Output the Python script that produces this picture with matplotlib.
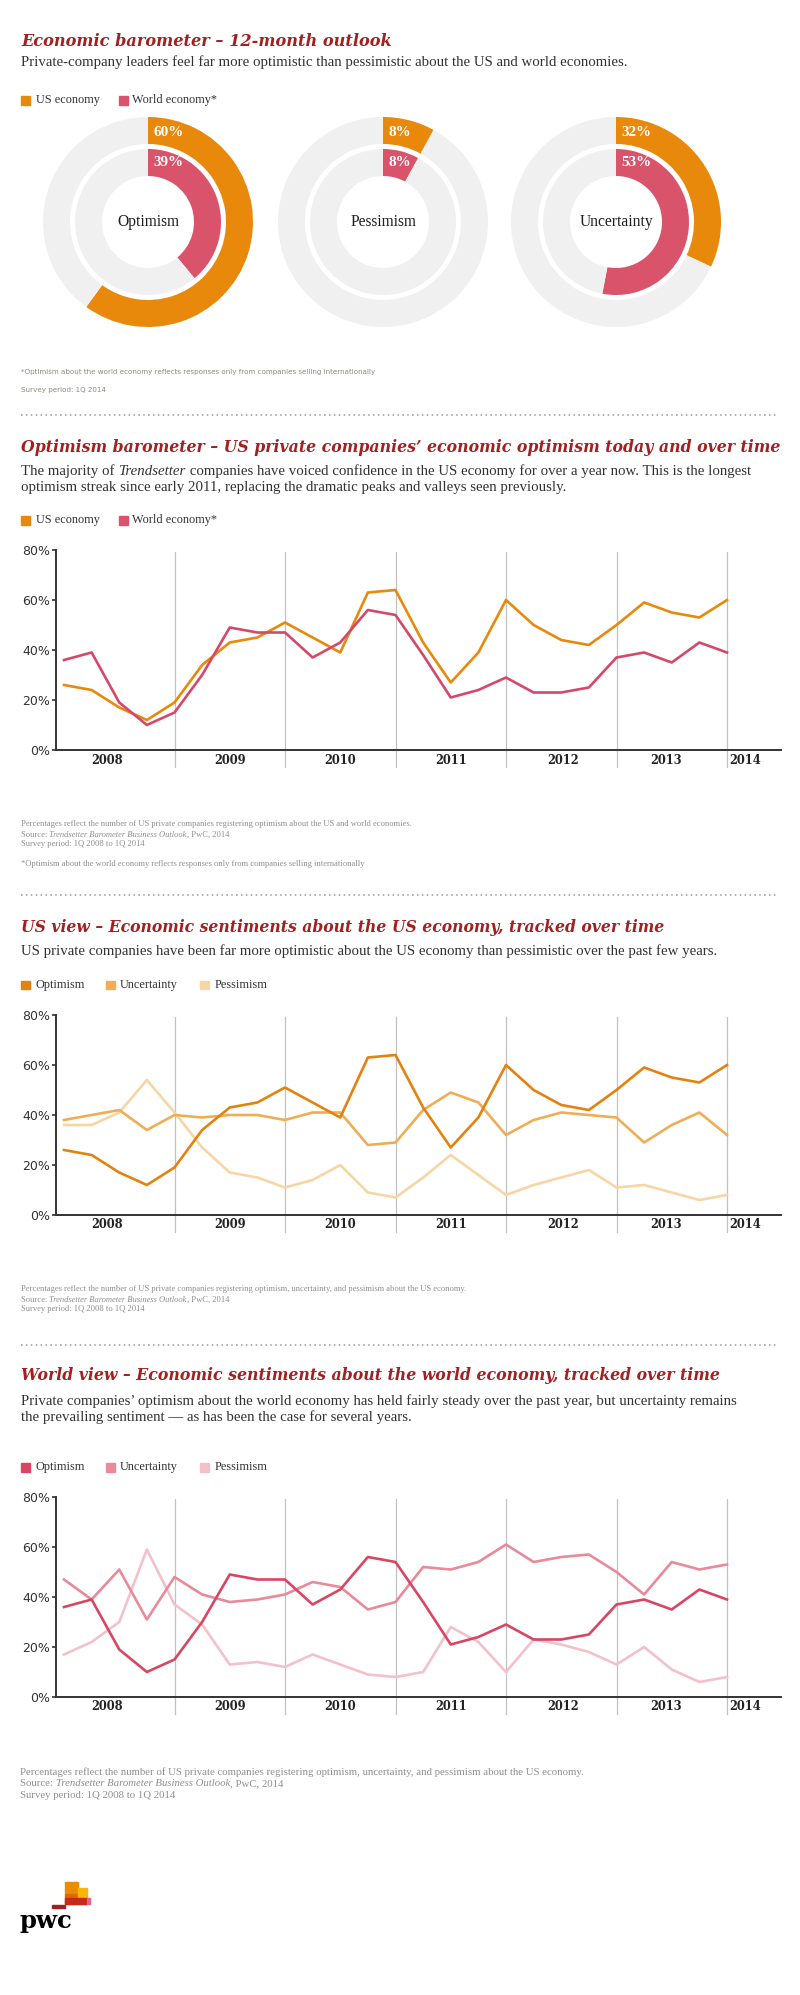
import numpy as np
import matplotlib
matplotlib.use('Agg')
import matplotlib.pyplot as plt
from matplotlib.patches import Rectangle
from matplotlib.lines import Line2D
from matplotlib.transforms import blended_transform_factory

# ---- data ----
donut_names = ['Optimism', 'Pessimism', 'Uncertainty']
us_now = [60, 8, 32]
world_now = [39, 8, 53]

years = ['2008', '2009', '2010', '2011', '2012', '2013', '2014']
quarters = [f'{q}Q {y}' for y in range(2008, 2014) for q in range(1, 5)] + ['1Q 2014']

us_opt = [26, 24, 17, 12, 19, 34, 43, 45, 51, 45, 39, 63, 64, 43, 27, 39, 60, 50, 44, 42, 50, 59, 55, 53, 60]
us_unc = [38, 40, 42, 34, 40, 39, 40, 40, 38, 41, 41, 28, 29, 42, 49, 45, 32, 38, 41, 40, 39, 29, 36, 41, 32]
us_pes = [36, 36, 41, 54, 41, 27, 17, 15, 11, 14, 20, 9, 7, 15, 24, 16, 8, 12, 15, 18, 11, 12, 9, 6, 8]

world_opt = [36, 39, 19, 10, 15, 30, 49, 47, 47, 37, 43, 56, 54, 38, 21, 24, 29, 23, 23, 25, 37, 39, 35, 43, 39]
world_unc = [47, 39, 51, 31, 48, 41, 38, 39, 41, 46, 44, 35, 38, 52, 51, 54, 61, 54, 56, 57, 50, 41, 54, 51, 53]
world_pes = [17, 22, 30, 59, 37, 29, 13, 14, 12, 17, 13, 9, 8, 10, 28, 22, 10, 23, 21, 18, 13, 20, 11, 6, 8]

# ---- style ----
RED = '#a32020'
ORANGE = '#e8890c'
PINK = '#d9546b'
BG = '#f0f0f0'
TXT = '#333333'
NOTE = '#8f8f8f'
SERIF = 'DejaVu Serif'
BODY = 'Liberation Serif'
SANS = 'DejaVu Sans'

W, H = 800, 1995
fig = plt.figure(figsize=(W / 100, H / 100), dpi=100)
R = fig.canvas.get_renderer()


def tw(s, size, **kw):
    # width of a string in pixels, trailing spaces included
    a = fig.text(0, 0, '|' + s + '|', fontsize=size, **kw)
    b = fig.text(0, 0, '||', fontsize=size, **kw)
    w = a.get_window_extent(R).width - b.get_window_extent(R).width
    a.remove()
    b.remove()
    return w


def runs(x, y, parts, size=10, color=TXT, family=BODY):
    # mixed upright / italic pieces on one shared baseline
    yb = y + 0.3 * size * 100 / 72
    for s, st in parts:
        fig.text(x / W, 1 - yb / H, s, fontsize=size, color=color, family=family,
                 style=st, va='baseline', ha='left')
        x += tw(s, size, family=family, style=st)


def fit(s, width, **kw):
    return 10 * width / tw(s, 10, **kw)


def put(x, y, s, size, color=TXT, family=BODY, **kw):
    kw.setdefault('va', 'center')
    kw.setdefault('ha', 'left')
    return fig.text(x / W, 1 - y / H, s, fontsize=size, color=color, family=family, **kw)


def title(y, s, width):
    size = fit(s, width, family=SERIF, weight='bold', style='italic')
    put(21, y, s, size, color=RED, family=SERIF, weight='bold', style='italic')


def dots(y):
    fig.add_artist(Line2D([21 / W, 778 / W], [1 - y / H] * 2, color='#9a9a9a', lw=1.1,
                          ls=(0, (1, 2.2))))


def legend(y, labels, colors, xs_box, xs_txt, size):
    for lab, c, xb, xt in zip(labels, colors, xs_box, xs_txt):
        fig.add_artist(Rectangle((xb / W, 1 - (y + 4.5) / H), 9 / W, 9 / H, color=c,
                                 transform=fig.transFigure))
        put(xt, y, lab, size, color='#333333')


sub_size = fit('Private-company leaders feel far more optimistic than pessimistic about the US and world economies.',
               608, family=BODY)
leg_size = fit('US economy', 64, family=BODY)

# ---- section 1 : doughnuts ----
title(42, 'Economic barometer – 12-month outlook', 369)
put(21, 62, 'Private-company leaders feel far more optimistic than pessimistic about the US and world economies.',
    sub_size)
legend(100, ['US economy', 'World economy*'], [ORANGE, PINK], [21, 119], [36, 132], leg_size)

centers = [148, 383, 616]
pct_size = fit('60%', 30, family=BODY, weight='bold')
name_size = fit('Optimism', 62, family=BODY)
for name, us, wo, cx in zip(donut_names, us_now, world_now, centers):
    half = 115
    ax = fig.add_axes([(cx - half) / W, 1 - (222 + half) / H, 2 * half / W, 2 * half / H])
    ax.pie([us, 100 - us], colors=[ORANGE, BG], startangle=90, counterclock=False, radius=1,
           wedgeprops=dict(width=27 / 105, linewidth=0))
    ax.pie([wo, 100 - wo], colors=[PINK, BG], startangle=90, counterclock=False, radius=73 / 105,
           wedgeprops=dict(width=27 / 105, linewidth=0))
    lim = half / 105
    ax.set_xlim(-lim, lim)
    ax.set_ylim(-lim, lim)
    ax.set_aspect('equal')
    ax.axis('off')
    ax.text(0.05, 90 / 105, f'{us}%', color='white', fontsize=pct_size, weight='bold',
            family=BODY, ha='left', va='center')
    ax.text(0.05, 59 / 105, f'{wo}%', color='white', fontsize=pct_size, weight='bold',
            family=BODY, ha='left', va='center')
    ax.text(0, 0, name, fontsize=name_size, family=BODY, color='#1e1e1e', ha='center', va='center')

fn = '*Optimism about the world economy reflects responses only from companies selling internationally'
fn_size = fit(fn, 353, family=SANS)
put(21, 372, fn, fn_size, color='#8c8a7c', family=SANS)
put(21, 390, 'Survey period: 1Q 2014', fn_size, color='#8c8a7c', family=SANS)
dots(415)

# ---- line charts ----
year_starts = [4, 8, 12, 16, 20, 24]
year_pos = [1.55, 6, 10, 14, 18.05, 21.8, 24.65]
tick_size = 9
year_size = fit('2008', 32, family=SERIF, weight='bold')


def line_chart(top, series, colors):
    ax = fig.add_axes([56 / W, 1 - (top + 200) / H, (781 - 56) / W, 200 / H])
    x = np.arange(len(quarters))
    for vals, c in zip(series, colors):
        ax.plot(x, vals, color=c, lw=1.9, clip_on=False, zorder=3)
    step = (727 - 64) / 24
    ax.set_xlim(-(64 - 56) / step, 24 + (781 - 727) / step)
    ax.set_ylim(0, 80)
    ax.set_yticks([0, 20, 40, 60, 80])
    ax.set_yticklabels(['0%', '20%', '40%', '60%', '80%'], family=SANS, fontsize=tick_size, color='#333333')
    ax.tick_params(axis='y', length=3, width=1.2, pad=1.5, color='#333333')
    ax.set_xticks([])
    for s in ['top', 'right']:
        ax.spines[s].set_visible(False)
    for s in ['left', 'bottom']:
        ax.spines[s].set_color('#333333')
        ax.spines[s].set_linewidth(1.4)
    for g in year_starts:
        ax.axvline(g, ymin=-0.085, ymax=0.99, color='#c2c2c2', lw=0.9, clip_on=False, zorder=1)
    tr = blended_transform_factory(ax.transData, ax.transAxes)
    for yr, p in zip(years, year_pos):
        ax.text(p, -0.05, yr, transform=tr, ha='center', va='center', weight='bold',
                family=SERIF, fontsize=year_size, color='#222222')
    return ax


# section 2
title(447, 'Optimism barometer – US private companies’ economic optimism today and over time', 759)
runs(21, 471, [('The majority of ', 'normal'), ('Trendsetter', 'italic'),
               (' companies have voiced confidence in the US economy for over a year now. This is the longest',
                'normal')], size=sub_size)
put(21, 488, 'optimism streak since early 2011, replacing the dramatic peaks and valleys seen previously.', sub_size)
legend(520, ['US economy', 'World economy*'], [ORANGE, PINK], [21, 119], [36, 132], leg_size)
line_chart(550, [us_opt, world_opt], [ORANGE, '#d4486a'])

n2 = 'Percentages reflect the number of US private companies registering optimism about the US and world economies.'
note_size = fit(n2, 390, family=BODY)
put(21, 824, n2, note_size, color=NOTE)
runs(21, 834, [('Source: ', 'normal'), ('Trendsetter Barometer Business Outlook', 'italic'), (', PwC, 2014', 'normal')],
     size=note_size, color=NOTE)
put(21, 844, 'Survey period: 1Q 2008 to 1Q 2014', note_size, color=NOTE)
put(21, 864, fn, note_size, color=NOTE)
dots(895)

# section 3
title(927, 'US view – Economic sentiments about the US economy, tracked over time', 642)
put(21, 951, 'US private companies have been far more optimistic about the US economy than pessimistic over the past few years.',
    sub_size)
us_cols = ['#e4820f', '#efad55', '#f7d6a5']
legend(985, ['Optimism', 'Uncertainty', 'Pessimism'], us_cols, [21, 106, 200], [35, 120, 215], leg_size)
line_chart(1015, [us_pes, us_unc, us_opt], us_cols[::-1])

n3 = 'Percentages reflect the number of US private companies registering optimism, uncertainty, and pessimism about the US economy.'
note3 = fit(n3, 443, family=BODY)
put(21, 1289, n3, note3, color=NOTE)
runs(21, 1299, [('Source: ', 'normal'), ('Trendsetter Barometer Business Outlook', 'italic'), (', PwC, 2014', 'normal')],
     size=note3, color=NOTE)
put(21, 1309, 'Survey period: 1Q 2008 to 1Q 2014', note3, color=NOTE)
dots(1345)

# section 4
title(1376, 'World view – Economic sentiments about the world economy, tracked over time', 701)
put(21, 1401, 'Private companies’ optimism about the world economy has held fairly steady over the past year, but uncertainty remains',
    sub_size)
put(21, 1417, 'the prevailing sentiment — as has been the case for several years.', sub_size)
wo_cols = ['#d94562', '#e88a9a', '#f3c1ca']
legend(1467, ['Optimism', 'Uncertainty', 'Pessimism'], wo_cols, [21, 106, 200], [35, 120, 215], leg_size)
line_chart(1497, [world_pes, world_unc, world_opt], wo_cols[::-1])

note4 = fit(n3, 556, family=BODY)
put(20, 1772, n3, note4, color=NOTE)
runs(20, 1783, [('Source: ', 'normal'), ('Trendsetter Barometer Business Outlook', 'italic'), (', PwC, 2014', 'normal')],
     size=note4, color=NOTE)
put(20, 1795, 'Survey period: 1Q 2008 to 1Q 2014', note4, color=NOTE)

# ---- pwc mark ----
blocks = [(65, 1882, 13, 12, '#eb8c00'), (65, 1894, 13, 10, '#dc6900'), (78, 1888, 9, 16, '#ffb600'),
          (65, 1898, 22, 6, '#c52a1a'), (87, 1898, 3, 6, '#eb5e8d'), (52, 1905, 13, 3, '#a32020')]
for bx, by, bw, bh, bc in blocks:
    fig.add_artist(Rectangle((bx / W, 1 - (by + bh) / H), bw / W, bh / H, color=bc, transform=fig.transFigure))
put(19, 1921, 'pwc', fit('pwc', 53, family=SERIF, weight='bold'), color='black', family=SERIF, weight='bold')

fig.savefig('out.png', dpi=100)
